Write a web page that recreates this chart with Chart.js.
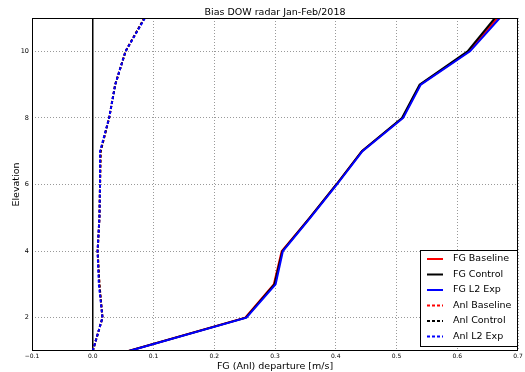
<!DOCTYPE html>
<html>
<head>
<meta charset="utf-8">
<script src="https://cdn.jsdelivr.net/npm/chart.js@4"></script>
<style>
  html, body { margin: 0; padding: 0; background: #fff; }
  #wrap { width: 525px; height: 372px; }
</style>
</head>
<body>
<div id="wrap"><canvas id="radar-bias"></canvas></div>
<script>
// elevation levels (y) and departures
const elevations = [1, 2, 3, 4, 5, 6, 7, 8, 9, 10, 11];

const fgBaseline = [0.059, 0.251, 0.298, 0.311, 0.357, 0.401, 0.443, 0.510, 0.539, 0.619, 0.666];
const fgControl  = [0.059, 0.252, 0.299, 0.312, 0.357, 0.401, 0.443, 0.509, 0.538, 0.617, 0.662];
const fgL2Exp    = [0.060, 0.253, 0.301, 0.313, 0.358, 0.402, 0.444, 0.511, 0.540, 0.621, 0.670];

const anlBaseline = [0.000, 0.016, 0.011, 0.008, 0.011, 0.012, 0.013, 0.027, 0.037, 0.054, 0.085];
const anlControl  = [0.000, 0.016, 0.011, 0.008, 0.011, 0.012, 0.013, 0.027, 0.037, 0.054, 0.085];
const anlL2Exp    = [0.000, 0.016, 0.010, 0.008, 0.011, 0.012, 0.012, 0.027, 0.037, 0.054, 0.086];

const xTicks = [-0.1, 0.0, 0.1, 0.2, 0.3, 0.4, 0.5, 0.6, 0.7];
const yTicks = [2, 4, 6, 8, 10];
const zeroLine = [0, 0];   // vertical reference at zero departure
const zeroLineY = [1, 11];

const chartTitle = 'Bias DOW radar Jan-Feb/2018';
const FONT = "'DejaVu Sans', sans-serif";

// zip values with elevation into points
const toPoints = (vals) => vals.map((v, i) => ({ x: v, y: elevations[i] }));

function series(label, vals, color, dotted, order) {
    return {
        label: label,
        data: toPoints(vals),
        showLine: true,
        borderColor: color,
        backgroundColor: color,
        borderWidth: 2,
        borderDash: dotted ? [3, 2] : [],
        pointRadius: 0,
        tension: 0,
        order: order          // lower order is drawn on top
    };
}

const datasets = [
    {
        label: '_zero',
        data: zeroLine.map((v, i) => ({ x: v, y: zeroLineY[i] })),
        showLine: true, borderColor: '#000', borderWidth: 1.5, pointRadius: 0,
        order: 9
    },
    series('FG Baseline', fgBaseline, '#ff0000', false, 6),
    series('FG Control', fgControl, '#000000', false, 5),
    series('FG L2 Exp', fgL2Exp, '#0000ff', false, 4),
    series('Anl Baseline', anlBaseline, '#ff0000', true, 3),
    series('Anl Control', anlControl, '#000000', true, 2),
    series('Anl L2 Exp', anlL2Exp, '#0000ff', true, 1)
];

// axes frame, title over the plot area, legend box lower right (matplotlib style)
const framePlugin = {
    id: 'frame',
    afterDatasetsDraw(chart) {
        const { ctx, chartArea: a } = chart;
        ctx.save();
        ctx.strokeStyle = '#000';
        ctx.lineWidth = 1;
        ctx.strokeRect(a.left + 0.5, a.top + 0.5, a.right - a.left - 1, a.bottom - a.top - 1);

        // title centred on the axes, not the canvas
        ctx.fillStyle = '#000';
        ctx.font = '9.5px ' + FONT;
        ctx.textAlign = 'center';
        ctx.textBaseline = 'alphabetic';
        ctx.fillText(chartTitle, (a.left + a.right) / 2, 14.5);

        // legend
        const items = chart.data.datasets.filter(d => !d.label.startsWith('_'));
        const bx = 420, by = 250, bw = 97, bh = 96;
        ctx.fillStyle = '#fff';
        ctx.fillRect(bx, by, bw, bh);
        ctx.strokeRect(bx + 0.5, by + 0.5, bw, bh);
        ctx.textAlign = 'left';
        ctx.textBaseline = 'middle';
        items.forEach((d, i) => {
            const y = by + 9 + i * 15.5;
            ctx.strokeStyle = d.borderColor;
            ctx.lineWidth = 2;
            ctx.setLineDash(d.borderDash);
            ctx.beginPath();
            ctx.moveTo(427, y);
            ctx.lineTo(443, y);
            ctx.stroke();
            ctx.setLineDash([]);
            ctx.fillStyle = '#000';
            ctx.fillText(d.label, 453, y);
        });
        ctx.restore();
    }
};

new Chart(document.getElementById('radar-bias'), {
    type: 'scatter',
    data: { datasets: datasets },
    plugins: [framePlugin],
    options: {
        responsive: true,
        maintainAspectRatio: false,
        animation: false,
        layout: { padding: { top: 18, right: 7, bottom: 0, left: 0 } },
        plugins: {
            legend: { display: false },
            tooltip: { enabled: false },
            title: { display: false }
        },
        scales: {
            x: {
                type: 'linear',
                min: -0.1,
                max: 0.7,
                afterBuildTicks: (s) => { s.ticks = xTicks.map(v => ({ value: v })); },
                afterFit: (s) => { s.height = 21; },
                ticks: {
                    color: '#000',
                    font: { family: FONT, size: 6 },
                    padding: 2,
                    maxRotation: 0,
                    callback: (v) => (v < 0 ? '\u2212' : '') + Math.abs(v).toFixed(1)
                },
                grid: { color: '#999', lineWidth: 1, drawTicks: false },
                border: { display: false, dash: [1, 2] },
                title: {
                    display: true,
                    text: 'FG (Anl) departure [m/s]',
                    color: '#000',
                    font: { family: FONT, size: 9.5 },
                    padding: { top: 0, bottom: 0 }
                }
            },
            y: {
                type: 'linear',
                min: 1,
                max: 11,
                afterBuildTicks: (s) => { s.ticks = yTicks.map(v => ({ value: v })); },
                afterFit: (s) => { s.width = 32; },
                ticks: {
                    color: '#000',
                    font: { family: FONT, size: 6.5 },
                    padding: 3
                },
                grid: { color: '#999', lineWidth: 1, drawTicks: false },
                border: { display: false, dash: [1, 2] },
                title: {
                    display: true,
                    text: 'Elevation',
                    color: '#000',
                    font: { family: FONT, size: 9.5 },
                    padding: { top: 11, bottom: 0 }
                }
            }
        }
    }
});
</script>
</body>
</html>
